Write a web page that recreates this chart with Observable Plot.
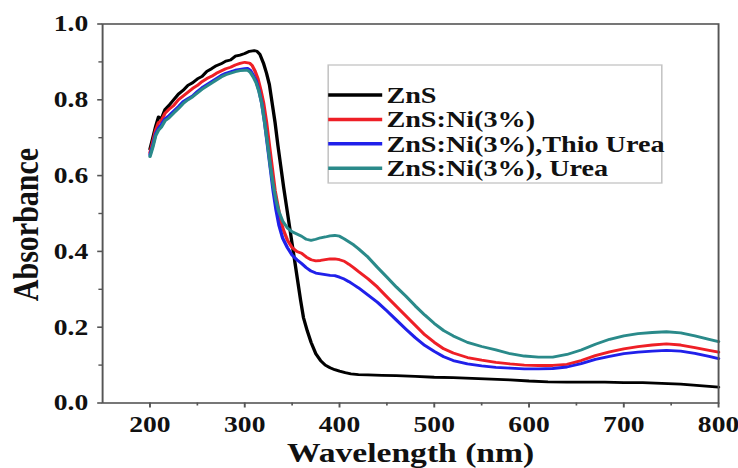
<!DOCTYPE html>
<html><head><meta charset="utf-8">
<script src="https://cdn.jsdelivr.net/npm/d3@7"></script>
<script src="https://cdn.jsdelivr.net/npm/@observablehq/plot@0.6"></script>
<style>
body{margin:0;background:#fff;}
#chart{width:738px;height:468px;overflow:hidden;background:#fff;}
#chart svg{transform:scaleX(1.2);transform-origin:0 0;display:block;}
</style></head><body><div id="chart"></div>
<script>
// ---- data ----
const seriesNames = ["ZnS", "ZnS:Ni(3%)", "ZnS:Ni(3%),Thio Urea", "ZnS:Ni(3%), Urea"];
const seriesColors = ["#000000", "#ee1f26", "#2020ea", "#2a8a8a"];

const znsWl = [200,203,206,209,212,216,220,225,230,235,240,245,250,255,260,265,270,275,280,285,290,295,300,305,310,313,316,320,323,326,329,332,335,338,341,344,347,350,353,356,359,362,366,370,375,380,385,390,395,400,406,412,420,430,445,460,480,500,520,540,560,580,600,620,640,660,680,700,720,740,760,780,800];
const znsA  = [0.67,0.70,0.73,0.755,0.75,0.775,0.785,0.80,0.815,0.825,0.838,0.845,0.855,0.862,0.875,0.882,0.89,0.895,0.902,0.905,0.915,0.918,0.922,0.928,0.93,0.928,0.92,0.895,0.87,0.84,0.79,0.74,0.68,0.625,0.57,0.52,0.47,0.42,0.37,0.32,0.27,0.225,0.19,0.16,0.13,0.112,0.1,0.093,0.088,0.084,0.08,0.077,0.075,0.074,0.073,0.072,0.07,0.068,0.067,0.065,0.063,0.061,0.058,0.056,0.055,0.055,0.055,0.054,0.054,0.052,0.05,0.046,0.042];

const niWl = [200,203,206,209,212,216,220,225,230,235,240,245,250,255,260,265,270,275,280,285,290,295,300,305,308,311,314,317,320,323,326,329,332,335,338,341,345,350,355,360,365,370,375,380,385,390,395,400,405,410,415,420,430,440,450,460,470,480,490,500,510,520,535,550,565,580,595,610,625,640,655,670,685,700,715,730,745,760,775,790,800];
const niA  = [0.66,0.69,0.72,0.74,0.745,0.765,0.775,0.785,0.80,0.81,0.82,0.83,0.838,0.848,0.856,0.862,0.87,0.876,0.882,0.886,0.892,0.896,0.899,0.897,0.89,0.875,0.855,0.825,0.79,0.74,0.68,0.62,0.56,0.52,0.48,0.455,0.43,0.41,0.40,0.395,0.385,0.378,0.375,0.376,0.378,0.38,0.38,0.378,0.374,0.366,0.357,0.347,0.328,0.306,0.28,0.255,0.23,0.205,0.18,0.16,0.143,0.132,0.12,0.113,0.107,0.103,0.10,0.099,0.099,0.102,0.112,0.125,0.135,0.143,0.149,0.153,0.156,0.153,0.146,0.139,0.134];

const thioWl = [200,203,206,209,212,216,220,225,230,235,240,245,250,255,260,265,270,275,280,285,290,295,300,303,306,309,312,315,318,321,324,327,330,333,336,340,345,350,355,360,365,370,375,380,385,390,395,400,405,410,415,420,430,440,450,460,470,480,490,500,510,520,535,550,565,580,595,610,625,640,655,670,685,700,715,730,745,760,775,790,800];
const thioA  = [0.655,0.68,0.71,0.725,0.735,0.75,0.758,0.77,0.782,0.795,0.803,0.81,0.822,0.832,0.84,0.848,0.856,0.864,0.87,0.874,0.878,0.88,0.882,0.883,0.878,0.865,0.85,0.825,0.79,0.74,0.68,0.62,0.56,0.51,0.47,0.435,0.41,0.39,0.378,0.368,0.357,0.348,0.343,0.341,0.339,0.337,0.336,0.332,0.327,0.32,0.312,0.304,0.285,0.266,0.243,0.219,0.195,0.172,0.152,0.136,0.122,0.112,0.103,0.098,0.094,0.092,0.09,0.09,0.091,0.095,0.104,0.115,0.123,0.13,0.134,0.137,0.139,0.137,0.131,0.123,0.117];

const ureaWl = [200,203,206,209,212,216,220,225,230,235,240,245,250,255,260,265,270,275,280,285,290,295,300,303,306,309,312,315,318,321,324,327,330,333,336,340,345,350,355,360,365,370,375,380,385,390,395,400,405,410,415,420,430,440,450,460,470,480,490,500,510,520,535,550,565,580,595,610,625,640,655,670,685,700,715,730,745,760,775,790,800];
const ureaA  = [0.65,0.675,0.705,0.72,0.728,0.745,0.752,0.765,0.777,0.79,0.80,0.808,0.818,0.828,0.836,0.844,0.852,0.86,0.866,0.87,0.874,0.877,0.878,0.878,0.872,0.86,0.845,0.822,0.79,0.74,0.685,0.625,0.575,0.535,0.505,0.48,0.462,0.452,0.446,0.44,0.432,0.429,0.432,0.436,0.438,0.441,0.442,0.44,0.433,0.425,0.417,0.407,0.385,0.358,0.332,0.306,0.282,0.256,0.232,0.21,0.191,0.177,0.16,0.149,0.14,0.13,0.124,0.121,0.121,0.128,0.14,0.155,0.168,0.177,0.183,0.186,0.188,0.185,0.177,0.168,0.162];

const xTicks = [200,300,400,500,600,700,800];
const xMinor = [250,350,450,550,650,750];
const yTicks = [0,0.2,0.4,0.6,0.8,1.0];
const yMinor = [0.1,0.3,0.5,0.7,0.9];
const xLabel = "Wavelength (nm)";
const yLabel = "Absorbance";

// ---- build table ----
const wls = [znsWl, niWl, thioWl, ureaWl];
const vals = [znsA, niA, thioA, ureaA];
const rows = [];
seriesNames.forEach((s, i) => wls[i].forEach((w, j) => rows.push({series: s, wl: w, a: vals[i][j]})));

const font = "Liberation Serif, Times New Roman, serif";
const axisGrey = "#555";

const plot = Plot.plot({
  width: 615, height: 468,
  marginLeft: 85, marginRight: 16.7, marginTop: 23.5, marginBottom: 65.5,
  style: {fontFamily: font, fontWeight: "bold", fontSize: "22px", background: "#fff", color: "#111", overflow: "visible"},
  x: {domain: [150, 800]},
  y: {domain: [0, 1]},
  color: {domain: seriesNames, range: seriesColors},
  marks: [
    Plot.axisX({ticks: xTicks, tickSize: 5, tickPadding: 8, tickFormat: d => String(d), label: null,
      stroke: axisGrey, strokeWidth: 1.6, fill: "#111", fontSize: 23, fontWeight: "bold", fontFamily: font}),
    Plot.axisX({ticks: xMinor, tickSize: 3, text: null, label: null, stroke: axisGrey, strokeWidth: 1.4}),
    Plot.axisY({ticks: yTicks, tickSize: 4, tickPadding: 8, tickFormat: d3.format(".1f"), label: null,
      stroke: axisGrey, strokeWidth: 1.6, fill: "#111", fontSize: 23, fontWeight: "bold", fontFamily: font}),
    Plot.axisY({ticks: yMinor, tickSize: 3, text: null, label: null, stroke: axisGrey, strokeWidth: 1.4}),
    Plot.line(rows, {x: "wl", y: "a", z: "series", stroke: "series", strokeWidth: 2.8, curve: "linear"}),
    Plot.frame({stroke: axisGrey, strokeWidth: 1.6}),
    Plot.text([xLabel], {text: d => d, frameAnchor: "bottom", dy: 50, lineAnchor: "middle", textAnchor: "middle",
      fontSize: 28, fontWeight: "bold", fontFamily: font, fill: "#111"}),
    Plot.text([yLabel], {text: d => d, frameAnchor: "left", dx: -63.5, dy: 11, rotate: -90, lineAnchor: "middle", textAnchor: "middle",
      fontSize: 30, fontWeight: "bold", fontFamily: font, fill: "#111"})
  ]
});

// ---- legend box ----
const svg = d3.select(plot);
const lg = svg.append("g").attr("font-family", font).attr("font-weight", "bold")
  .attr("font-size", 23.5).attr("text-anchor", "start");
lg.append("rect").attr("x", 273.5).attr("y", 65).attr("width", 278).attr("height", 118)
  .attr("fill", "#fff").attr("stroke", "#c4c4c4").attr("stroke-width", 1.3);
seriesNames.forEach((s, i) => {
  const cy = 95 + i * 24.4;
  lg.append("line").attr("x1", 273.5).attr("x2", 318.5).attr("y1", cy).attr("y2", cy)
    .attr("stroke", seriesColors[i]).attr("stroke-width", 3.5);
  lg.append("text").attr("x", 322).attr("y", cy).attr("dy", "0.34em").attr("fill", "#111").text(s);
});

document.getElementById("chart").appendChild(plot);
</script>
</body></html>
